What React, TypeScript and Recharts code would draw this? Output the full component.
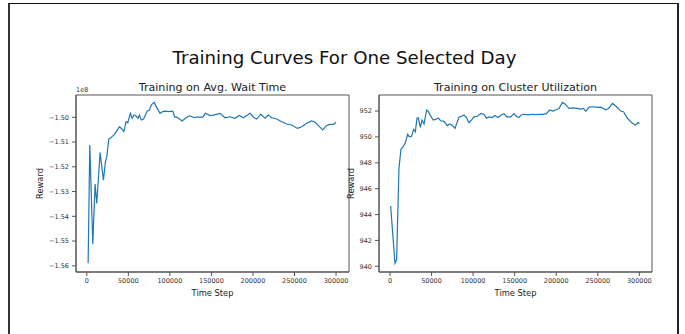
import { LineChart, Line, XAxis, YAxis, ReferenceArea } from 'recharts'

// Training on Avg. Wait Time (reward in units of 1e8)
const waitSteps = [
  1600, 3600, 7200, 10000, 12000, 16000, 20000, 22400, 24000, 26500, 29200, 33200,
  36100, 39200, 41700, 44500, 47300, 49300, 52500, 54500, 56900, 59300, 61700, 63300,
  65700, 68400, 72600, 75300, 77800, 81000, 84200, 88200, 91400, 94600, 98600, 103500,
  105900, 108300, 114700, 118700, 123500, 129500, 132300, 139600, 142700, 145500, 148300,
  152400, 160400, 166400, 172400, 178500, 183600, 188500, 196500, 201300, 204500, 209400,
  212600, 214600, 218500, 222500, 228600, 234600, 240700, 246700, 253500, 258800, 264700,
  270700, 274700, 280000, 284000, 288000, 292000, 296800, 300000,
]
const waitReward = [
  -1.559, -1.5112, -1.5512, -1.527, -1.5348, -1.5142, -1.5254, -1.518, -1.516, -1.5088,
  -1.5082, -1.5069, -1.5055, -1.5038, -1.5045, -1.5058, -1.5018, -1.5022, -1.4984, -1.5004,
  -1.4991, -1.4995, -1.5004, -1.4991, -1.5011, -1.5007, -1.4975, -1.4971, -1.495, -1.4939,
  -1.4961, -1.4984, -1.4977, -1.4975, -1.4977, -1.4975, -1.4999, -1.4999, -1.5015, -1.5004,
  -1.4994, -1.5001, -1.4999, -1.4999, -1.4984, -1.4988, -1.4993, -1.4991, -1.4984, -1.5002,
  -1.4998, -1.5004, -1.4993, -1.5002, -1.4984, -1.5002, -1.5007, -1.4987, -1.4998, -1.5004,
  -1.4991, -1.5002, -1.5007, -1.5018, -1.5027, -1.5031, -1.5045, -1.5038, -1.5024, -1.5015,
  -1.502, -1.5038, -1.5051, -1.5035, -1.5029, -1.5029, -1.502,
]

// Training on Cluster Utilization
const utilSteps = [
  800, 6000, 8000, 10800, 13200, 16000, 18800, 21300, 23300, 26000, 28500, 30500, 32500,
  34100, 36500, 38500, 41000, 44100, 46500, 48100, 52100, 55000, 58100, 61000, 64900,
  69000, 71500, 75000, 78200, 83000, 86000, 89000, 92000, 95000, 98000, 101100, 105000,
  109100, 113000, 116000, 119100, 123000, 126300, 130000, 134000, 137200, 140400, 145200,
  149200, 152000, 155200, 158000, 161200, 166000, 171300, 175000, 179300, 184000, 188000,
  192200, 196000, 200000, 203400, 207400, 210500, 215400, 220000, 225000, 229500, 233000,
  235500, 239500, 245500, 249000, 253600, 259600, 263000, 267600, 272400, 277600, 281000,
  285600, 291600, 295600, 298500, 300000,
]
const utilReward = [
  944.67, 940.24, 940.5, 947.57, 949.04, 949.24, 949.6, 950.2, 950.0, 950.05, 950.59, 950.4,
  951.44, 951.48, 950.74, 951.3, 951.0, 952.08, 951.95, 951.7, 951.3, 951.35, 951.46, 951.25,
  951.2, 950.87, 951.0, 950.9, 950.66, 951.52, 951.6, 951.7, 951.5, 951.1, 951.3, 951.55,
  951.6, 951.8, 951.75, 951.45, 951.55, 951.5, 951.65, 951.5, 951.7, 951.8, 951.55, 951.55,
  951.8, 951.6, 951.5, 951.7, 951.75, 951.7, 951.75, 951.72, 951.75, 951.75, 951.8, 952.08,
  952.0, 952.1, 952.2, 952.67, 952.55, 952.2, 952.25, 952.2, 952.15, 952.2, 951.98, 952.3,
  952.33, 952.28, 952.3, 952.1, 952.2, 952.59, 952.35, 952.0, 951.95, 951.44, 951.05, 950.92,
  951.12, 951.0,
]

const stepTicks = [0, 50000, 100000, 150000, 200000, 250000, 300000]
const waitTicks = [-1.56, -1.55, -1.54, -1.53, -1.52, -1.51, -1.5]
const utilTicks = [940, 942, 944, 946, 948, 950, 952]

const waitData = waitSteps.map((step, i) => ({ step, reward: waitReward[i] }))
const utilData = utilSteps.map((step, i) => ({ step, reward: utilReward[i] }))

const FONT = '"DejaVu Sans", sans-serif'
const SPINE = '#555'

function Panel({
  data,
  left,
  width,
  marginRight,
  yWidth,
  xDomain,
  yDomain,
  yTicks,
  yFormat,
}: {
  data: { step: number; reward: number }[]
  left: number
  width: number
  marginRight: number
  yWidth: number
  xDomain: [number, number]
  yDomain: [number, number]
  yTicks: number[]
  yFormat: (v: number) => string
}) {
  const tick = { fill: '#333', fontSize: 6.5, fontFamily: FONT }
  return (
    <LineChart
      width={width}
      height={334}
      data={data}
      margin={{ top: 95, right: marginRight, left: 4, bottom: 36 }}
      style={{ position: 'absolute', left, top: 0 }}
    >
      <ReferenceArea
        x1={xDomain[0]}
        x2={xDomain[1]}
        y1={yDomain[0]}
        y2={yDomain[1]}
        fill="none"
        stroke={SPINE}
        strokeOpacity={1}
        ifOverflow="visible"
      />
      <XAxis
        dataKey="step"
        type="number"
        domain={xDomain}
        allowDataOverflow
        ticks={stepTicks}
        interval={0}
        height={26}
        tickSize={4}
        tickMargin={2}
        tick={tick}
        stroke={SPINE}
        label={{ value: 'Time Step', position: 'insideBottom', offset: 2, fontSize: 8.3, fill: '#222', fontFamily: FONT }}
      />
      <YAxis
        type="number"
        domain={yDomain}
        allowDataOverflow
        ticks={yTicks}
        interval={0}
        width={yWidth}
        tickSize={4}
        tickMargin={3}
        tick={tick}
        stroke={SPINE}
        tickFormatter={yFormat}
        label={{ value: 'Reward', angle: -90, position: 'center', fontSize: 8.3, fill: '#222', fontFamily: FONT }}
      />
      <Line
        dataKey="reward"
        type="linear"
        stroke="#1f77b4"
        strokeWidth={1.2}
        dot={false}
        isAnimationActive={false}
      />
    </LineChart>
  )
}

export default function App() {
  return (
    <div
      style={{
        position: 'absolute',
        left: 0,
        top: 0,
        width: 685,
        height: 334,
        overflow: 'hidden',
        background: '#fff',
        fontFamily: FONT,
      }}
    >
      <div
        style={{
          position: 'absolute',
          left: 8,
          top: 3,
          width: 667,
          height: 360,
          borderTop: '1px solid #111',
          borderRight: '2px solid #222',
          borderLeft: '2px solid #333',
        }}
      />
      <Panel
        data={waitData}
        left={0}
        width={360}
        marginRight={11}
        yWidth={72}
        xDomain={[-13000, 315600]}
        yDomain={[-1.5625, -1.491]}
        yTicks={waitTicks}
        yFormat={(v) => '\u2212' + Math.abs(v).toFixed(2)}
      />
      <Panel
        data={utilData}
        left={320}
        width={365}
        marginRight={33}
        yWidth={55}
        xDomain={[-13200, 315200]}
        yDomain={[939.56, 953.24]}
        yTicks={utilTicks}
        yFormat={(v) => String(v)}
      />
      <svg
        width={685}
        height={334}
        style={{ position: 'absolute', left: 0, top: 0, pointerEvents: 'none' }}
        fontFamily={FONT}
      >
        <text x={344.5} y={64} textAnchor="middle" fontSize={18.2} fill="#111">
          Training Curves For One Selected Day
        </text>
        <text x={212.5} y={91} textAnchor="middle" fontSize={11.1} fill="#222">
          Training on Avg. Wait Time
        </text>
        <text x={515.5} y={91} textAnchor="middle" fontSize={11.1} fill="#222">
          Training on Cluster Utilization
        </text>
        <text x={76} y={92} fontSize={6.5} fill="#333">
          1e8
        </text>
      </svg>
    </div>
  )
}
